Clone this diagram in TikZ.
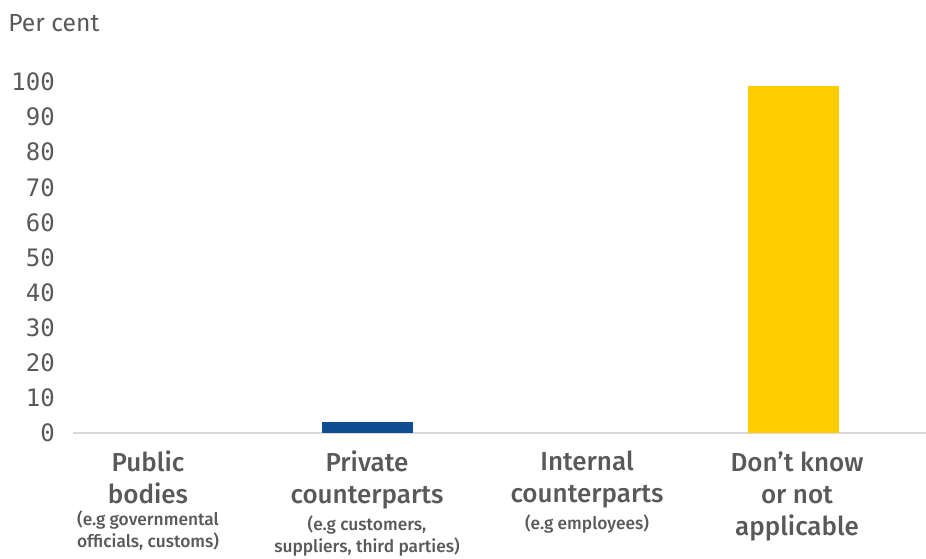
\documentclass[tikz,border=0pt]{standalone}
\usepackage{fontspec}
\setmainfont{Fira Sans}[BoldFont={Fira Sans Medium}]
\newfontfamily\ticksfont{DejaVu Sans Mono}
\usetikzlibrary{positioning}
\definecolor{text-grey}{HTML}{595959}
\definecolor{axis-grey}{HTML}{D9D9D9}
\definecolor{bar-blue}{HTML}{0F4F91}
\definecolor{bar-yellow}{HTML}{FFCC00}

\begin{document}
\begin{tikzpicture}[x=0.75pt, y=-0.75pt,
      every node/.style={text=text-grey},
      ticklabel/.style={anchor=east, inner sep=0pt, font=\ticksfont\fontsize{18}{20}\selectfont},
      catlabel/.style={anchor=north, align=center, inner sep=0pt,
        font=\fontsize{19.5}{24}\selectfont\bfseries},
      sublabel/.style={align=center, inner sep=0pt, font=\fontsize{13}{17}\selectfont\bfseries}]
    \useasboundingbox (0,0) rectangle (926,559);
    % axis title and ticks
    \node[anchor=west, inner sep=0pt, font=\fontsize{18.5}{20}\selectfont] (title) at (8,23) {Per cent};
    \foreach \v in {0,10,...,100}
      \node[ticklabel] (tick\v) at (55,{433-3.51*\v}) {\v};
    % baseline
    \coordinate (axisL) at (73,433);
    \coordinate (axisR) at (926,433);
    \draw[axis-grey, line width=1.5pt] (axisL) -- (axisR);
    % bars
    \fill[bar-blue] (322,433) rectangle (413,422);
    \fill[bar-yellow] (748,433) rectangle (839,86);
    % category labels
    \node[catlabel] (pub) at (148,451) {Public\\bodies};
    \node[sublabel, below=4pt of pub] (pubsub) {(e.g governmental\\officials, customs)};
    \node[catlabel] (priv) at (367,451) {Private\\counterparts};
    \node[sublabel, below=4pt of priv] (privsub) {(e.g customers,\\suppliers, third parties)};
    \node[catlabel] (int) at (587,451) {Internal\\counterparts};
    \node[sublabel, below=4pt of int] (intsub) {(e.g employees)};
    \node[catlabel] (dk) at (797,451) {Don’t know\\or not\\applicable};
  \end{tikzpicture}
\end{document}
